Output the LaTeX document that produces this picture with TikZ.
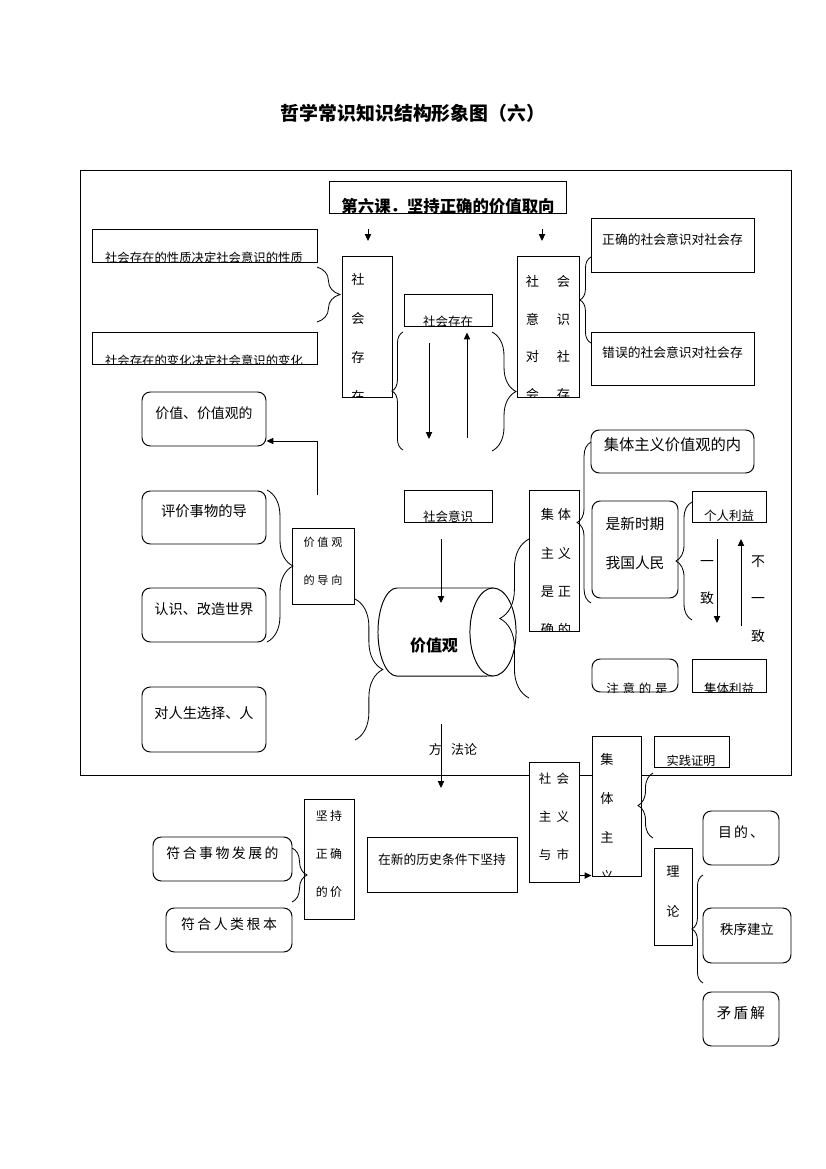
\documentclass[tikz,border=0pt]{standalone}
\usepackage{fontspec}
\setmainfont{Noto Sans CJK SC}
\usetikzlibrary{ % tikz packages
    arrows.meta,fit,
    decorations.pathreplacing
}
\tikzset{
    box/.style={draw, fill=white, line width=0.7pt, inner sep=0pt},
    rbox/.style={box, rounded corners=6pt},
    arr/.style={-{Triangle[length=5pt,width=4.5pt]}, line width=0.7pt},
    brc/.style={decorate, decoration={brace, amplitude=#1}, line width=0.6pt}
}
\newcommand{\fsz}[2]{\fontsize{#1}{#2}\selectfont}
% box whose text runs past its lower edge
\newcommand{\cutbox}[6][box]{%
    \node[#1, fit={#3}] (#2) {};
    \begin{scope}
        \clip (#2.north west) rectangle (#2.south east);
        \node[#4, inner sep=0pt, align=center] at #5 {#6};
    \end{scope}}

\begin{document}
\begin{tikzpicture}[x=0.72pt, y=-0.72pt]
    \useasboundingbox (0,0) rectangle (826,1169);
    \node[font=\fsz{13.6}{16}\bfseries] (title) at (413,113) {哲学常识知识结构形象图（六）};
    \draw[line width=0.7pt] (80,170) rectangle (791,775);

    % upper part
    \cutbox{lesson}{(329,181) (566,213)}{font=\fsz{11.8}{14}\bfseries}{(448,206)}{第六课．坚持正确的价值取向}
    \cutbox{xingzhi}{(92,229) (317,262)}{font=\fsz{8.9}{11}}{(204,258)}{社会存在的性质决定社会意识的性质}
    \cutbox{bianhua}{(92,332) (317,364)}{font=\fsz{8.9}{11}}{(204,361)}{社会存在的变化决定社会意识的变化}
    \cutbox{cunzai}{(342,256) (392,397)}{font=\fsz{9.5}{28}}{(358,338)}{社\\会\\存\\在}
    \cutbox{yishi}{(517,256) (579,397)}{font=\fsz{9.5}{27}\addfontfeature{LetterSpace=135}}{(548,338)}{社会\\意识\\对社\\会存}
    \cutbox{sczc}{(404,294) (492,326)}{font=\fsz{9}{11}}{(448,322)}{社会存在}
    \cutbox{shys}{(404,490) (492,522)}{font=\fsz{9}{11}}{(448,517)}{社会意识}
    \node[box, fit={(591,218) (754,272)}, font=\fsz{9.2}{11}] (zhengque) {正确的社会意识对社会存};
    \node[box, fit={(591,332) (754,385)}, font=\fsz{9.2}{11}] (cuowu) {错误的社会意识对社会存};

    % left column
    \node[rbox, fit={(142,392) (266,446)}, font=\fsz{10}{12}] (jzgd) {价值、价值观的};
    \node[rbox, fit={(142,491) (266,544)}, font=\fsz{10.3}{12}] (pingjia) {评价事物的导};
    \node[rbox, fit={(142,588) (266,642)}, font=\fsz{10.2}{12}] (renshi) {认识、改造世界};
    \node[rbox, fit={(142,687) (266,752)}, font=\fsz{10.2}{12}] (rensheng) {对人生选择、人};
    \node[box, fit={(292,528) (354,604)}, font=\fsz{8}{27.4}\addfontfeature{LetterSpace=25}] (daoxiang) {价值观\\的导向};

    % the cylinder
    \fill[white] (397,588) -- (493,588) -- (493,676) -- (397,676)
        arc[start angle=270, end angle=90, x radius=13.7pt, y radius=31.7pt];
    \draw[line width=0.7pt] (493,588) -- (397,588)
        arc[start angle=90, end angle=270, x radius=13.7pt, y radius=31.7pt] -- (493,676);
    \draw[line width=0.7pt, fill=white] (493,632) ellipse[x radius=16.6pt, y radius=31.7pt];
    \node[font=\fsz{11.5}{14}\bfseries] (jzg) at (434,645) {价值观};

    % right column
    \node[rbox, fit={(591,430) (754,473)}, font=\fsz{11}{13}] (neihan) {集体主义价值观的内};
    \cutbox{jtzy}{(529,490) (579,631)}{font=\fsz{9.5}{27.4}\addfontfeature{LetterSpace=29}}{(556,572)}{集体\\主义\\是正\\确的}
    \node[rbox, fit={(592,501) (678,598)}, font=\fsz{10.6}{28}] (xinshiqi) {是新时期\\我国人民};
    \cutbox{geren}{(692,491) (766,522)}{font=\fsz{9}{11}}{(729,516)}{个人利益}
    \cutbox{jiti}{(692,659) (766,692)}{font=\fsz{9}{11}}{(729,689)}{集体利益}
    \cutbox[rbox]{zhuyi}{(592,659) (678,692)}{font=\fsz{9}{11}\addfontfeature{LetterSpace=30}}{(637,689)}{注意的是}
    \node[font=\fsz{10}{12}] (yi1) at (707,563) {一};
    \node[font=\fsz{10}{12}] (zhi1) at (707,598) {致};
    \node[font=\fsz{10}{12}] (bu) at (758,562) {不};
    \node[font=\fsz{10}{12}] (yi2) at (758,600) {一};
    \node[font=\fsz{10}{12}] (zhi2) at (758,636) {致};

    % lower part
    \node[font=\fsz{9.4}{11}] (fangfa) at (453,750) {方\hspace{0.7em}法论};
    \cutbox{shijian}{(654,736) (729,767)}{font=\fsz{8.8}{11}}{(691,761)}{实践证明}
    \cutbox{jiti2}{(592,736) (641,876)}{font=\fsz{9.5}{27.9}}{(607,818)}{集\\体\\主\\义}
    \node[box, fit={(529,762) (579,882)}, font=\fsz{9}{27.4}\addfontfeature{LetterSpace=44}] (shzy) {社会\\主义\\与市};
    \node[box, fit={(304,799) (354,919)}, font=\fsz{8.6}{27.4}\addfontfeature{LetterSpace=20}] (jianchi) {坚持\\正确\\的价};
    \node[rbox, fit={(153,837) (292,881)}, font=\fsz{10}{12}\addfontfeature{LetterSpace=18}] (fuhe1) {符合事物发展的};
    \node[rbox, fit={(166,908) (292,952)}, font=\fsz{10}{12}\addfontfeature{LetterSpace=18}] (fuhe2) {符合人类根本};
    \node[box, fit={(367,837) (517,892)}, font=\fsz{9.2}{11}] (xinlishi) {在新的历史条件下坚持};
    \node[rbox, fit={(703,811) (779,865)}, font=\fsz{10}{12}\addfontfeature{LetterSpace=15}] (mudi) {目的、};
    \node[box, fit={(654,848) (692,945)}, font=\fsz{9.5}{28.8}] (lilun) {理\\论};
    \node[rbox, fit={(703,908) (791,963)}, font=\fsz{9.7}{12}] (zhixu) {秩序建立};
    \node[rbox, fit={(703,992) (779,1046)}, font=\fsz{10.5}{12}\addfontfeature{LetterSpace=15}] (maodun) {矛盾解};

    % arrows
    \coordinate (h1) at (368,229);
    \coordinate (h2) at (542,229);
    \coordinate (dn) at (429,343);
    \coordinate (up) at (467,438);
    \coordinate (bend) at (317,441);
    \coordinate (ys) at (441,539);
    \coordinate (ff) at (441,724);
    \coordinate (yz) at (717,539);
    \coordinate (byz) at (741,626);
    \draw[arr] (h1) -- ++(0,12);
    \draw[arr] (h2) -- ++(0,12);
    \draw[arr] (dn) -- ++(0,96);
    \draw[arr, shorten >=4.3pt] (up) -- (up |- sczc.south);
    \draw[arr] (317,495) -- (bend) -- (bend -| jzgd.east);
    \draw[arr] (ys) -- ++(0,64);
    \draw[arr] (ff) -- ++(0,64);
    \draw[arr] (yz) -- ++(0,84);
    \draw[arr] (byz) -- ++(0,-87);
    \draw[arr] ([yshift=5pt]shzy.south east) coordinate (s1) -- (s1 -| jiti2.west);

    % braces
    \draw[brc=16.5pt] (317,267) -- (317,322);
    \draw[brc=8pt] (591,343) -- (591,257);
    \draw[brc=8pt] (403,450) -- (403,332);
    \draw[brc=17.3pt] (492,332) -- (492,451);
    \draw[brc=18.7pt] (267,490) -- (267,642);
    \draw[brc=20pt] (355,599) -- (355,740);
    \draw[brc=21pt] (529,698) -- (529,539);
    \draw[brc=10pt] (591,603) -- (591,442);
    \draw[brc=11.5pt] (692,620) -- (692,502);
    \draw[brc=10.8pt] (292,848) -- (292,902);
    \draw[brc=10.8pt] (653,838) -- (653,773);
    \draw[brc=8pt] (703,983) -- (703,875);
\end{tikzpicture}
\end{document}
